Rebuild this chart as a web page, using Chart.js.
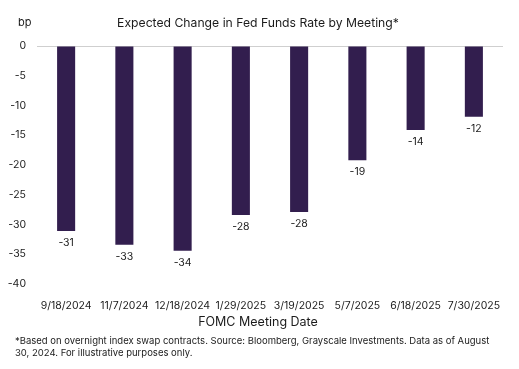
<!DOCTYPE html>
<html><head><meta charset="utf-8">
<script src="https://cdn.jsdelivr.net/npm/chart.js@4.4.1/dist/chart.umd.min.js"></script>
<style>html,body{margin:0;padding:0;background:#fff;}#c{display:block;}</style>
</head><body>
<canvas id="c" width="519" height="369"></canvas>
<script>
const categories = ["9/18/2024","11/7/2024","12/18/2024","1/29/2025","3/19/2025","5/7/2025","6/18/2025","7/30/2025"];
const values = [-31.1, -33.4, -34.4, -28.4, -27.9, -19.2, -14.1, -11.9];
const yTicks = [0,-5,-10,-15,-20,-25,-30,-35,-40];
const titleText = "Expected Change in Fed Funds Rate by Meeting*";
const unitText = "bp";
const xTitleText = "FOMC Meeting Date";
const footnote = ["*Based on overnight index swap contracts. Source: Bloomberg, Grayscale Investments. Data as of August","30, 2024. For illustrative purposes only."];

const FONT = "Inter, 'Noto Sans', sans-serif";
const TXT = "#1b1b1b";

const overlay = {
  id:'overlay',
  afterDatasetsDraw(chart){
    const ctx = chart.ctx;
    const meta = chart.getDatasetMeta(0);
    ctx.save();
    ctx.fillStyle = TXT;
    ctx.font = "10.5px " + FONT;
    ctx.textAlign = 'center';
    ctx.textBaseline = 'middle';
    meta.data.forEach((bar,i)=>{
      ctx.fillText(String(Math.round(values[i])), bar.x, bar.y + 12);
    });
    ctx.restore();
  },
  afterDraw(chart){
    const ctx = chart.ctx;
    ctx.save();
    ctx.fillStyle = TXT;
    ctx.textBaseline = 'middle';
    ctx.font = "12.2px " + FONT;
    ctx.textAlign = 'center';
    ctx.fillText(titleText, 258, 23);
    ctx.textAlign = 'left';
    ctx.font = "11px " + FONT;
    ctx.fillText(unitText, 18, 23);
    ctx.textAlign = 'center';
    ctx.font = "12.5px " + FONT;
    ctx.fillText(xTitleText, 258, 322);
    ctx.textAlign = 'left';
    ctx.font = "9.5px " + FONT;
    ctx.fillText(footnote[0], 15, 341);
    ctx.fillText(footnote[1], 15, 353);
    ctx.restore();
  }
};

new Chart(document.getElementById('c'), {
  type:'bar',
  data:{ labels:categories, datasets:[{ data:values, backgroundColor:'#321e4e', borderWidth:0, barPercentage:0.31, categoryPercentage:1 }]},
  options:{
    responsive:false, animation:false, devicePixelRatio:1,
    layout:{ padding:{ top:46, right:16, left:0, bottom:0 } },
    plugins:{ legend:{display:false}, tooltip:{enabled:false}, title:{display:false} },
    scales:{
      x:{
        grid:{display:false}, border:{display:false},
        ticks:{ color:TXT, font:{family:FONT, size:10.5}, padding:8, maxRotation:0, autoSkip:false },
        afterFit(s){ s.height = 369-284; }
      },
      y:{
        min:-40, max:0,
        afterBuildTicks(s){ s.ticks = yTicks.map(v=>({value:v})); },
        grid:{ drawTicks:false, color:(c)=> c.tick && c.tick.value===0 ? '#cfcfcf' : 'rgba(0,0,0,0)', lineWidth:1 },
        border:{display:false},
        ticks:{ color:TXT, font:{family:FONT, size:10.5}, padding:11 },
        afterFit(s){ s.width = 37; }
      }
    }
  },
  plugins:[overlay]
});
</script>
</body></html>
